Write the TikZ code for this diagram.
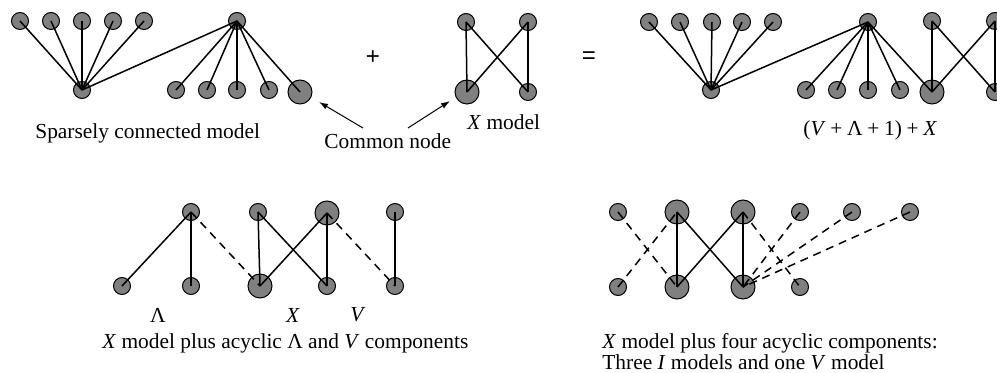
\documentclass[tikz,border=0pt]{standalone}
\usepackage{fontspec}
\setmainfont{Liberation Serif}
\newfontfamily\opsans{Liberation Sans}
\usetikzlibrary{arrows.meta}
\begin{document}
\begin{tikzpicture}[x=0.5pt,y=-0.5pt,
  sn/.style={circle,draw=black,fill=gray,line width=0.5pt,minimum size=8.5pt,inner sep=0pt},
  ln/.style={circle,draw=black,fill=gray,line width=0.5pt,minimum size=12pt,inner sep=0pt},
  edge/.style={line width=0.75pt},
  dsh/.style={line width=0.75pt,dash pattern=on 4pt off 3pt},
  lbl/.style={font=\fontsize{10.7}{13}\selectfont,inner sep=0pt},
  opl/.style={font=\opsans\fontsize{12}{14}\selectfont,inner sep=0pt},
  ptr/.style={line width=0.5pt,-{Latex[length=4.5pt,width=3pt]}}]
\useasboundingbox (0,0) rectangle (997,373);
% ---------- sparsely connected model ----------
\node[sn] (a1) at (20,21) {};
\node[sn] (a2) at (51,21) {};
\node[sn] (a3) at (82,21) {};
\node[sn] (a4) at (113,21) {};
\node[sn] (a5) at (144,21) {};
\node[sn] (ah) at (82,90) {};
\node[sn] (ag) at (237,21) {};
\node[sn] (b1) at (176,90) {};
\node[sn] (b2) at (207,90) {};
\node[sn] (b3) at (237,90) {};
\node[sn] (b4) at (269,90) {};
\node[ln] (bc) at (300,92) {};
\foreach \n in {a1,a2,a3,a4,a5,ag} \draw[edge] (ah.center) -- (\n.center);
\foreach \n in {b1,b2,b3,b4,bc} \draw[edge] (ag.center) -- (\n.center);
\node[lbl,anchor=west] (t1) at (35,133) {Sparsely connected model};
% ---------- plus ----------
\node[opl] (plus) at (373,58) {+};
% ---------- X model ----------
\node[sn] (x1) at (466,22) {};
\node[sn] (x2) at (528,22) {};
\node[ln] (x3) at (467,92) {};
\node[sn] (x4) at (528,92) {};
\draw[edge] (x1.center) -- (x3.center);
\draw[edge] (x1.center) -- (x4.center);
\draw[edge] (x2.center) -- (x3.center);
\draw[edge] (x2.center) -- (x4.center);
\node[lbl,anchor=west] (t2) at (467,122) {\textit{X} model};
% ---------- common node ----------
\node[lbl,anchor=west] (cn) at (324,141) {Common node};
\coordinate (p1) at (363,128);
\coordinate (q1) at (319,102);
\coordinate (p2) at (408,128);
\coordinate (q2) at (450,101);
\draw[ptr] (p1) -- (q1);
\draw[ptr] (p2) -- (q2);
% ---------- equals ----------
\node[opl] (eq) at (589,58) {=};
% ---------- combined ----------
\node[sn] (c1) at (649,22) {};
\node[sn] (c2) at (680,22) {};
\node[sn] (c3) at (712,22) {};
\node[sn] (c4) at (742,22) {};
\node[sn] (c5) at (773,22) {};
\node[sn] (ch) at (711,90) {};
\node[sn] (cg) at (868,22) {};
\node[sn] (d1) at (806,90) {};
\node[sn] (d2) at (837,90) {};
\node[sn] (d3) at (868,90) {};
\node[sn] (d4) at (900,90) {};
\node[ln] (dc) at (932,92) {};
\node[sn] (e1) at (932,21) {};
\node[sn] (e2) at (995,21) {};
\node[sn] (e4) at (995,92) {};
\foreach \n in {c1,c2,c3,c4,c5,cg} \draw[edge] (ch.center) -- (\n.center);
\foreach \n in {d1,d2,d3,d4,dc} \draw[edge] (cg.center) -- (\n.center);
\draw[edge] (e1.center) -- (dc.center);
\draw[edge] (e1.center) -- (e4.center);
\draw[edge] (e2.center) -- (dc.center);
\draw[edge] (e2.center) -- (e4.center);
\node[lbl,anchor=west] (t3) at (803,130) {(\textit{V}\hspace{0.22em}+\hspace{0.22em}Λ\hspace{0.22em}+\hspace{0.22em}1)\hspace{0.22em}+\hspace{0.22em}\textit{X}};
% ---------- bottom left ----------
\node[sn] (f1) at (191,212) {};
\node[sn] (f2) at (258,212) {};
\node[ln] (f3) at (327,213) {};
\node[sn] (f4) at (395,212) {};
\node[sn] (g1) at (122,286) {};
\node[sn] (g2) at (191,286) {};
\node[ln] (g3) at (260,286) {};
\node[sn] (g4) at (327,286) {};
\node[sn] (g5) at (395,286) {};
\draw[edge] (g1.center) -- (f1.center);
\draw[edge] (g2.center) -- (f1.center);
\draw[dsh] (f1.center) -- (g3.center);
\draw[edge] (f2.center) -- (g3.center);
\draw[edge] (f2.center) -- (g4.center);
\draw[edge] (f3.center) -- (g3.center);
\draw[edge] (f3.center) -- (g4.center);
\draw[dsh] (f3.center) -- (g5.center);
\draw[edge] (f4.center) -- (g5.center);
\node[lbl] (l1) at (158,315) {Λ};
\node[lbl] (l2) at (293,315) {\textit{X}};
\node[lbl] (l3) at (358,315) {\textit{V}};
\node[lbl,anchor=west] (t4) at (102,343) {\textit{X} model plus acyclic Λ and \textit{V} components};
% ---------- bottom right ----------
\node[sn] (h1) at (618,212) {};
\node[ln] (h2) at (677,212) {};
\node[ln] (h3) at (743,212) {};
\node[sn] (h4) at (800,212) {};
\node[sn] (h5) at (852,212) {};
\node[sn] (h6) at (910,212) {};
\node[sn] (k1) at (618,287) {};
\node[ln] (k2) at (677,287) {};
\node[ln] (k3) at (743,287) {};
\node[sn] (k4) at (800,287) {};
\draw[edge] (h2.center) -- (k2.center);
\draw[edge] (h2.center) -- (k3.center);
\draw[edge] (h3.center) -- (k2.center);
\draw[edge] (h3.center) -- (k3.center);
\draw[dsh] (h1.center) -- (k2.center);
\draw[dsh] (k1.center) -- (h2.center);
\draw[dsh] (h3.center) -- (k4.center);
\draw[dsh] (h4.center) -- (k3.center);
\draw[dsh] (h5.center) -- (k3.center);
\draw[dsh] (h6.center) -- (k3.center);
\node[lbl,anchor=west] (t5) at (602,343) {\textit{X} model plus four acyclic components:};
\node[lbl,anchor=west] (t6) at (602,362) {Three \textit{I} models and one \textit{V} model};
\end{tikzpicture}
\end{document}
